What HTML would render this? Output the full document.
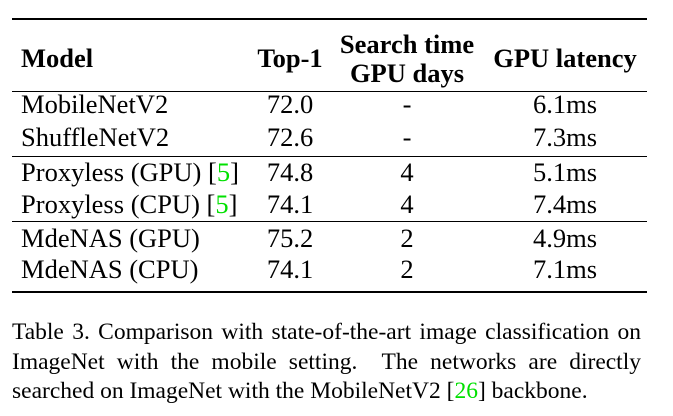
<!DOCTYPE html>
<html><head><meta charset="utf-8"><style>
body{margin:0;background:#fff;width:673px;height:416px;position:relative;overflow:hidden;font-family:"Liberation Serif",serif;color:#000}
.t{position:absolute;font-size:26.5px;line-height:30px;height:30px;white-space:nowrap}
.b{font-weight:bold}
.c{transform:translateX(-50%)}
.r{position:absolute;left:12px;width:635px;background:#000}
.g{color:#00e000}
.cl{position:absolute;left:12px;width:629px;font-size:23.5px;line-height:29.5px;height:29.5px;white-space:nowrap}
.j{text-align:justify;text-align-last:justify}
</style></head><body>
<div class="r" style="top:18px;height:2px"></div>
<div class="r" style="top:91px;height:1px"></div>
<div class="r" style="top:156px;height:1px"></div>
<div class="r" style="top:221px;height:1px"></div>
<div class="r" style="top:291px;height:2px"></div>

<div class="t b" style="left:21px;top:43px">Model</div>
<div class="t b c" style="left:290px;top:43px">Top-1</div>
<div class="t b c" style="left:407px;top:29px">Search time</div>
<div class="t b c" style="left:407px;top:58px">GPU days</div>
<div class="t b c" style="left:565px;top:43px">GPU latency</div>

<div>
<div class="t" style="left:21px;top:89px">MobileNetV2</div><div class="t c" style="left:290px;top:89px">72.0</div><div class="t c" style="left:407px;top:89px">-</div><div class="t c" style="left:565px;top:89px">6.1ms</div></div>
<div>
<div class="t" style="left:21px;top:122px">ShuffleNetV2</div><div class="t c" style="left:290px;top:122px">72.6</div><div class="t c" style="left:407px;top:122px">-</div><div class="t c" style="left:565px;top:122px">7.3ms</div></div>
<div>
<div class="t" style="left:21px;top:157px">Proxyless (GPU) [<span class="g">5</span>]</div><div class="t c" style="left:290px;top:157px">74.8</div><div class="t c" style="left:407px;top:157px">4</div><div class="t c" style="left:565px;top:157px">5.1ms</div></div>
<div>
<div class="t" style="left:21px;top:189px">Proxyless (CPU) [<span class="g">5</span>]</div><div class="t c" style="left:290px;top:189px">74.1</div><div class="t c" style="left:407px;top:189px">4</div><div class="t c" style="left:565px;top:189px">7.4ms</div></div>
<div>
<div class="t" style="left:21px;top:223px">MdeNAS (GPU)</div><div class="t c" style="left:290px;top:223px">75.2</div><div class="t c" style="left:407px;top:223px">2</div><div class="t c" style="left:565px;top:223px">4.9ms</div></div>
<div>
<div class="t" style="left:21px;top:254px">MdeNAS (CPU)</div><div class="t c" style="left:290px;top:254px">74.1</div><div class="t c" style="left:407px;top:254px">2</div><div class="t c" style="left:565px;top:254px">7.1ms</div></div>

<div>
<div class="cl j" style="top:318px">Table 3. Comparison with state-of-the-art image classification on</div>
<div class="cl j" style="top:347.5px">ImageNet with the mobile setting. &nbsp;The networks are directly</div>
<div class="cl" style="top:377px">searched on ImageNet with the MobileNetV2 [<span class="g">26</span>] backbone.</div>
</div>
</body></html>
